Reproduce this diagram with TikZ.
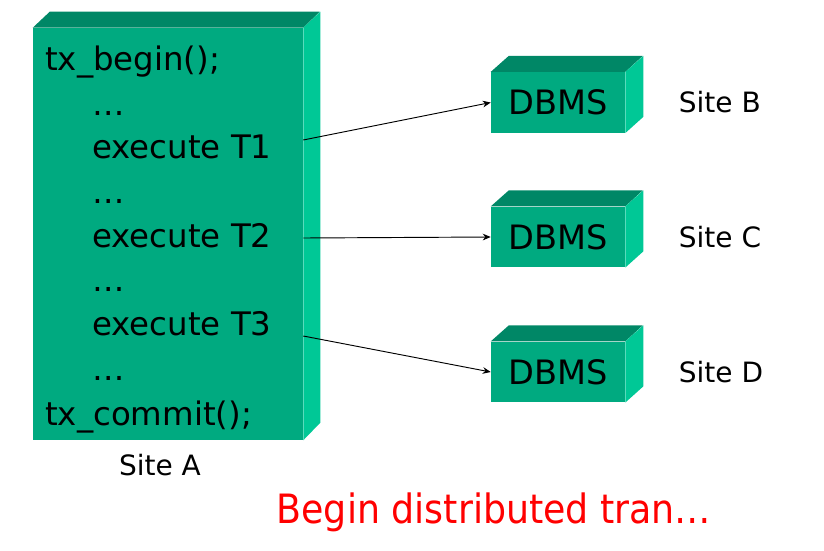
\documentclass[tikz,border=0pt]{standalone}
\usepackage{fontspec}
\setmainfont{DejaVu Sans}
\newfontfamily\condfont{DejaVu Sans Condensed}
\usetikzlibrary{arrows.meta,positioning}
\definecolor{frontgreen}{RGB}{0,170,128}
\definecolor{topgreen}{RGB}{0,135,102}
\definecolor{sidegreen}{RGB}{0,200,150}
\definecolor{slidered}{RGB}{255,0,0}

\begin{document}
\begin{tikzpicture}[x=0.75pt,y=-0.75pt]
  \tikzstyle{front} = [fill=frontgreen,rectangle,inner sep=0pt]
  \tikzstyle{code} = [anchor=base west,inner sep=0pt,font=\fontsize{24.3}{27}\selectfont]
  \tikzstyle{dbms} = [front,minimum width=100.5pt,minimum height=45.5pt,font=\fontsize{25.2}{29}\selectfont]
  \tikzstyle{site} = [inner sep=0pt,font=\fontsize{21}{24}\selectfont]
  \tikzstyle{arrow} = [line width=0.7pt,-{Stealth[length=6pt,width=5pt]}]
  \useasboundingbox (0,0) rectangle (824,550);
  % site A with the program
  \node (siteA) [front,minimum width=202.5pt,minimum height=309pt] at (168,234) {};
  \fill[topgreen] (siteA.north west) -- ++(17,-16) -- ++(270,0) -- (siteA.north east) -- cycle;
  \fill[sidegreen] (siteA.north east) -- ++(17,-16) -- ++(0,411) -- (siteA.south east) -- cycle;
  \node (begin) [code] at (45,70) {tx\_begin();};
  \node (dotsA) [code] at (92,115) {…};
  \node (exeA) [code] at (92,158) {execute T1};
  \node (dotsB) [code] at (92,203) {…};
  \node (exeB) [code] at (92,247) {execute T2};
  \node (dotsC) [code] at (92,291) {…};
  \node (exeC) [code] at (92,335) {execute T3};
  \node (dotsD) [code] at (92,380) {…};
  \node (commit) [code] at (45,425) {tx\_commit();};
  \node (labA) [site] at (160,465) {Site A};
  % the three DBMS
  \foreach \s/\y in {B/102.5,C/237,D/372} {
    \node (db\s) [dbms] at (558,\y) {DBMS};
    \fill[topgreen] (db\s.north west) -- ++(18,-16) -- ++(134,0) -- (db\s.north east) -- cycle;
    \fill[sidegreen] (db\s.north east) -- ++(18,-16) -- ++(0,61) -- (db\s.south east) -- cycle;
    \node (lab\s) [site,right=40pt of db\s] {Site \s};
  }
  % calls
  \coordinate (yB) at (0,140);
  \coordinate (yC) at (0,238);
  \coordinate (yD) at (0,336);
  \draw [arrow] (siteA.east |- yB) -- (dbB.west);
  \draw [arrow] (siteA.east |- yC) -- (dbC.west);
  \draw [arrow] (siteA.east |- yD) -- (dbD.west);
  \node (title) [slidered,inner sep=0pt,font=\condfont\fontsize{30.3}{34}\selectfont] at (494,512) {Begin distributed tran…};
\end{tikzpicture}
\end{document}
